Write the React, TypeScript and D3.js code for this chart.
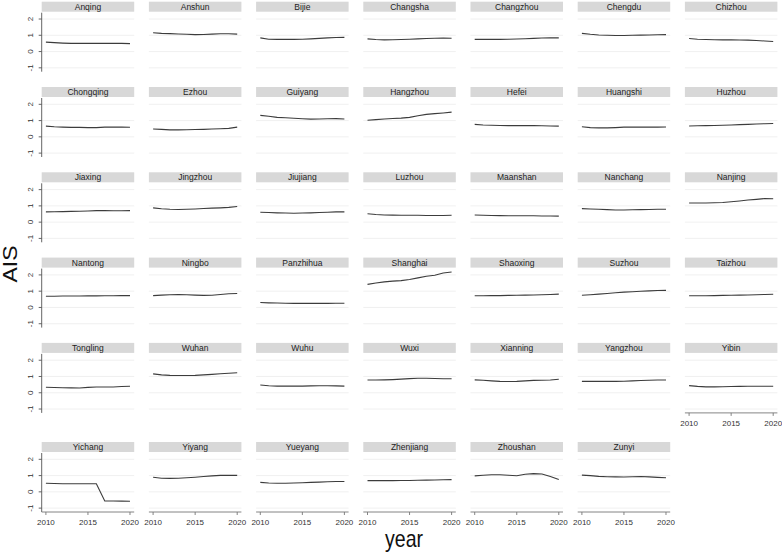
import * as d3 from "d3";
import React, { useEffect, useRef } from "react";

// panel titles, in the order they are laid out (7 per row)
const cities = [
  "Anqing", "Anshun", "Bijie", "Changsha", "Changzhou", "Chengdu", "Chizhou",
  "Chongqing", "Ezhou", "Guiyang", "Hangzhou", "Hefei", "Huangshi", "Huzhou",
  "Jiaxing", "Jingzhou", "Jiujiang", "Luzhou", "Maanshan", "Nanchang", "Nanjing",
  "Nantong", "Ningbo", "Panzhihua", "Shanghai", "Shaoxing", "Suzhou", "Taizhou",
  "Tongling", "Wuhan", "Wuhu", "Wuxi", "Xianning", "Yangzhou", "Yibin",
  "Yichang", "Yiyang", "Yueyang", "Zhenjiang", "Zhoushan", "Zunyi",
];

const years = [2010, 2011, 2012, 2013, 2014, 2015, 2016, 2017, 2018, 2019, 2020];

// AIS by city (same order as cities), one value per year
const ais: number[][] = [
  [0.58, 0.55, 0.52, 0.5, 0.5, 0.5, 0.5, 0.5, 0.5, 0.5, 0.49],
  [1.16, 1.12, 1.1, 1.08, 1.06, 1.04, 1.05, 1.07, 1.09, 1.09, 1.07],
  [0.84, 0.76, 0.75, 0.75, 0.75, 0.76, 0.78, 0.81, 0.84, 0.86, 0.87],
  [0.78, 0.74, 0.72, 0.73, 0.74, 0.76, 0.78, 0.8, 0.82, 0.83, 0.82],
  [0.75, 0.75, 0.75, 0.75, 0.76, 0.77, 0.79, 0.81, 0.83, 0.84, 0.84],
  [1.12, 1.06, 1.02, 1.0, 0.99, 0.99, 1.0, 1.01, 1.02, 1.03, 1.04],
  [0.8, 0.76, 0.74, 0.73, 0.72, 0.72, 0.71, 0.7, 0.68, 0.65, 0.62],
  [0.66, 0.62, 0.6, 0.58, 0.58, 0.57, 0.57, 0.6, 0.61, 0.6, 0.59],
  [0.48, 0.46, 0.43, 0.43, 0.44, 0.45, 0.46, 0.48, 0.5, 0.52, 0.6],
  [1.32, 1.27, 1.2, 1.17, 1.14, 1.11, 1.09, 1.1, 1.11, 1.12, 1.1],
  [1.02, 1.06, 1.1, 1.13, 1.15, 1.2, 1.3, 1.38, 1.43, 1.47, 1.52],
  [0.77, 0.73, 0.71, 0.7, 0.69, 0.69, 0.69, 0.69, 0.68, 0.67, 0.66],
  [0.62, 0.57, 0.55, 0.55, 0.57, 0.6, 0.6, 0.6, 0.6, 0.6, 0.61],
  [0.67, 0.68, 0.69, 0.7, 0.71, 0.73, 0.75, 0.77, 0.79, 0.81, 0.82],
  [0.63, 0.64, 0.65, 0.66, 0.67, 0.69, 0.71, 0.72, 0.7, 0.7, 0.71],
  [0.88, 0.82, 0.79, 0.78, 0.79, 0.81, 0.84, 0.86, 0.88, 0.91, 0.96],
  [0.61, 0.59, 0.57, 0.56, 0.55, 0.56, 0.57, 0.59, 0.61, 0.63, 0.63],
  [0.52, 0.47, 0.44, 0.43, 0.42, 0.42, 0.42, 0.41, 0.41, 0.41, 0.42],
  [0.44, 0.42, 0.41, 0.4, 0.39, 0.39, 0.39, 0.39, 0.38, 0.38, 0.37],
  [0.83, 0.81, 0.79, 0.77, 0.75, 0.75, 0.76, 0.77, 0.78, 0.79, 0.79],
  [1.18, 1.18, 1.18, 1.19, 1.21, 1.25, 1.3, 1.36, 1.4, 1.45, 1.44],
  [0.69, 0.69, 0.7, 0.7, 0.7, 0.71, 0.71, 0.72, 0.72, 0.73, 0.73],
  [0.73, 0.76, 0.78, 0.79, 0.78, 0.76, 0.74, 0.75, 0.8, 0.84, 0.86],
  [0.3, 0.28, 0.27, 0.26, 0.25, 0.25, 0.25, 0.25, 0.25, 0.26, 0.26],
  [1.42, 1.5, 1.57, 1.62, 1.65, 1.72, 1.82, 1.92, 1.98, 2.12, 2.18],
  [0.72, 0.72, 0.73, 0.73, 0.74, 0.75, 0.76, 0.77, 0.78, 0.8, 0.82],
  [0.75, 0.78, 0.82, 0.86, 0.9, 0.94, 0.97, 1.0, 1.02, 1.04, 1.05],
  [0.72, 0.72, 0.72, 0.73, 0.74, 0.75, 0.76, 0.77, 0.78, 0.8, 0.81],
  [0.34, 0.32, 0.31, 0.3, 0.29, 0.33, 0.35, 0.35, 0.35, 0.38, 0.4],
  [1.16, 1.1, 1.07, 1.06, 1.06, 1.07, 1.1, 1.13, 1.17, 1.2, 1.23],
  [0.48, 0.43, 0.41, 0.41, 0.41, 0.41, 0.42, 0.43, 0.43, 0.42, 0.41],
  [0.78, 0.78, 0.79, 0.81, 0.84, 0.87, 0.89, 0.89, 0.88, 0.86, 0.86],
  [0.79, 0.77, 0.73, 0.7, 0.69, 0.7, 0.73, 0.76, 0.77, 0.78, 0.83],
  [0.7, 0.7, 0.7, 0.7, 0.7, 0.71, 0.73, 0.75, 0.77, 0.78, 0.78],
  [0.44, 0.39, 0.36, 0.36, 0.37, 0.38, 0.39, 0.4, 0.4, 0.4, 0.4],
  [0.53, 0.51, 0.5, 0.5, 0.5, 0.5, 0.5, -0.56, -0.56, -0.57, -0.58],
  [0.9, 0.84, 0.83, 0.84, 0.87, 0.9, 0.94, 0.98, 1.01, 1.02, 1.01],
  [0.58, 0.54, 0.53, 0.53, 0.54, 0.56, 0.58, 0.6, 0.62, 0.64, 0.64],
  [0.69, 0.69, 0.69, 0.69, 0.7, 0.7, 0.71, 0.72, 0.73, 0.74, 0.75],
  [0.98, 1.02, 1.05, 1.05, 1.02, 0.99, 1.08, 1.12, 1.1, 0.95, 0.76],
  [1.03, 1.0, 0.95, 0.93, 0.92, 0.91, 0.93, 0.94, 0.92, 0.89, 0.87],
];

const yTicks = [-1, 0, 1, 2];
const xTicks = [2010, 2015, 2020];

const FONT = "'Liberation Sans', Arial, Helvetica, sans-serif";

const App: React.FC = () => {
  const ref = useRef<SVGSVGElement>(null);

  useEffect(() => {
    if (!ref.current) return;
    const svg = d3.select(ref.current);
    svg.selectAll("*").remove();

    const width = 782,
      height = 554;
    const nCols = 7;
    const colX0 = 41.7,
      colPitch = 107.2,
      panelW = 92.5;
    const stripH = 10,
      plotH = 61; // plot region below the strip
    const rowTop = (r: number) => (r < 5 ? 1.7 + 85.3 * r : 442);

    const x = d3.scaleLinear().domain([2009.5, 2020.5]).range([0, panelW]);
    const y = d3.scaleLinear().domain([-1.3, 2.45]).range([stripH + plotH, stripH]);

    const line = d3
      .line<number>()
      .x((_, i) => x(years[i]))
      .y((d) => y(d))
      .curve(d3.curveLinear);

    const nRows = Math.ceil(cities.length / nCols);

    cities.forEach((city, i) => {
      const r = Math.floor(i / nCols),
        c = i % nCols;
      const g = svg
        .append("g")
        .attr("transform", `translate(${colX0 + colPitch * c},${rowTop(r)})`);

      // grid lines
      g.selectAll(".grid")
        .data(yTicks)
        .enter()
        .append("line")
        .attr("x1", 0)
        .attr("x2", panelW)
        .attr("y1", (d) => y(d))
        .attr("y2", (d) => y(d))
        .attr("stroke", "#ececec")
        .attr("stroke-width", 0.8);

      // strip
      g.append("rect")
        .attr("x", 0)
        .attr("y", 0)
        .attr("width", panelW)
        .attr("height", stripH)
        .attr("fill", "#d8d8d8");
      g.append("text")
        .attr("x", panelW / 2)
        .attr("y", stripH / 2)
        .attr("dy", "0.35em")
        .attr("text-anchor", "middle")
        .style("font-family", FONT)
        .style("font-size", "8.5px")
        .style("fill", "#222")
        .text(city);

      // the series
      g.append("path")
        .datum(ais[i])
        .attr("d", line)
        .attr("fill", "none")
        .attr("stroke", "#3c3c3c")
        .attr("stroke-width", 1.1);

      // y axis on first column
      if (c === 0) {
        const ya = g.append("g");
        ya.append("line")
          .attr("x1", 0)
          .attr("x2", 0)
          .attr("y1", stripH + 1)
          .attr("y2", stripH + plotH - 1)
          .attr("stroke", "#555")
          .attr("stroke-width", 0.9);
        ya.selectAll(".yt")
          .data(yTicks)
          .enter()
          .append("line")
          .attr("x1", -3)
          .attr("x2", 0)
          .attr("y1", (d) => y(d))
          .attr("y2", (d) => y(d))
          .attr("stroke", "#555")
          .attr("stroke-width", 0.9);
        ya.selectAll(".yl")
          .data(yTicks)
          .enter()
          .append("text")
          .attr("transform", (d) => `translate(-9,${y(d)}) rotate(-90)`)
          .attr("text-anchor", "middle")
          .style("font-family", FONT)
          .style("font-size", "8px")
          .style("fill", "#333")
          .text((d) => String(d));
      }

      // x axis on the last panel of each column
      const isBottom = i + nCols >= cities.length || r === nRows - 1;
      if (isBottom) {
        const xa = g.append("g").attr("transform", `translate(0,${stripH + plotH - 1})`);
        xa.append("line")
          .attr("x1", 0)
          .attr("x2", panelW)
          .attr("stroke", "#777")
          .attr("stroke-width", 0.9);
        xa.selectAll(".xt")
          .data(xTicks)
          .enter()
          .append("line")
          .attr("x1", (d) => x(d))
          .attr("x2", (d) => x(d))
          .attr("y1", 0)
          .attr("y2", 3)
          .attr("stroke", "#777")
          .attr("stroke-width", 0.9);
        xa.selectAll(".xl")
          .data(xTicks)
          .enter()
          .append("text")
          .attr("x", (d) => x(d))
          .attr("y", 13)
          .attr("text-anchor", "middle")
          .style("font-family", FONT)
          .style("font-size", "8px")
          .style("fill", "#333")
          .text((d) => String(d));
      }
    });

    // axis titles
    svg
      .append("text")
      .attr("transform", "translate(17,264) rotate(-90) scale(1,0.85)")
      .attr("text-anchor", "middle")
      .style("font-family", FONT)
      .style("font-size", "23px")
      .style("fill", "#111")
      .text("AIS");
    svg
      .append("text")
      .attr("transform", "translate(404,547) scale(0.85,1)")
      .attr("text-anchor", "middle")
      .style("font-family", FONT)
      .style("font-size", "23px")
      .style("fill", "#111")
      .text("year");

    svg.attr("width", width).attr("height", height);
  }, []);

  return (
    <svg
      ref={ref}
      width={782}
      height={554}
      style={{ position: "absolute", left: 0, top: 0, background: "#fff" }}
    />
  );
};

export default App;
